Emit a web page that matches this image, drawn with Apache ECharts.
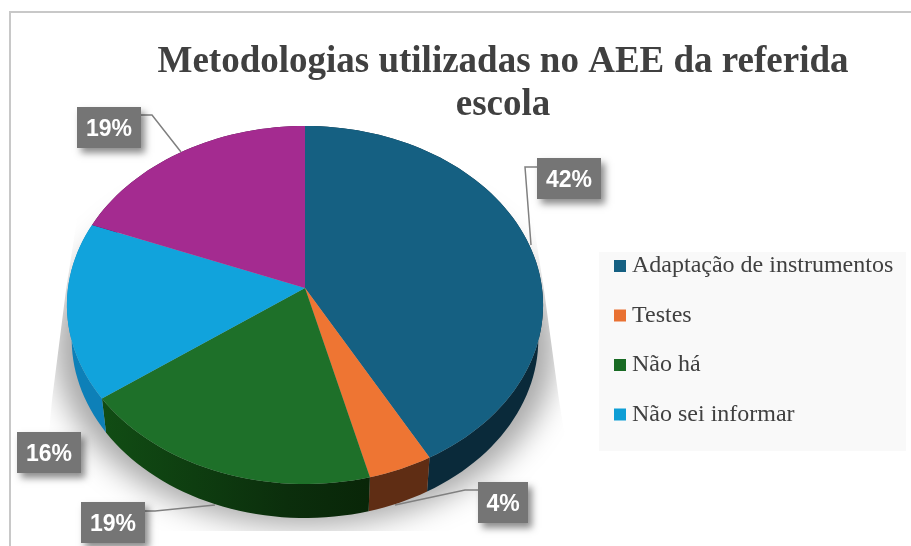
<!DOCTYPE html>
<html>
<head>
<meta charset="utf-8">
<style>
  html, body { margin: 0; padding: 0; background: #fff; }
  #chart { width: 911px; height: 546px; }
</style>
</head>
<body>
<div id="chart"></div>
<script src="https://cdn.jsdelivr.net/npm/echarts@6/dist/echarts.min.js"></script>
<script>
const sliceNames = ["Adaptação de instrumentos", "Testes", "Não há", "Não sei informar", "Outros"];
const sliceValues = [42, 4, 19, 16, 19];
const legendCount = 4;

const topColors = ["#156082", "#ee7533", "#1e7029", "#11a3dc", "#a42b90"];
const legendColors = ["#156082", "#e97132", "#196b24", "#0f9ed5"];
const sideColors = ["#0a2a3a", "#5f2d14", null, "#0d80b8", "#4a1443"];
const greenSide = {
  type: "linear", x: 100, y: 0, x2: 368, y2: 0, global: true,
  colorStops: [{ offset: 0, color: "#114d14" }, { offset: 0.7, color: "#0b2e0c" }, { offset: 1, color: "#092608" }],
};

// label boxes [x, y, w, h] and leader lines, in page pixels
const labelBoxes = [
  [537, 158, 64, 41],
  [478, 482, 50, 41],
  [81, 502, 64, 41],
  [17, 432, 64, 41],
  [77, 107, 64, 41],
];
const leaders = [
  [[537, 167], [525, 167], [531, 245]],
  [[478, 490], [465, 490], [395, 505]],
  [[145, 511], [155, 511], [215, 505]],
  null,
  [[141, 115], [152, 115], [181, 152]],
];

// perspective disc
const cx = 305, cy = 288, ax = 237, by = 177.4, k = 0.095, depth = 34, bottomScale = 0.98;
const total = sliceValues.reduce((a, b) => a + b, 0);

function discPoint(deg, scale, dy) {
  const t = (deg * Math.PI) / 180;
  const u = Math.sin(t), v = -Math.cos(t);
  const den = 1 - k * v;
  return [cx + (scale * ax * u) / den, cy + dy + (by * v) / den];
}

function arc(from, to, scale, dy) {
  const steps = Math.max(2, Math.ceil((to - from) / 2));
  const pts = [];
  for (let i = 0; i <= steps; i++) pts.push(discPoint(from + ((to - from) * i) / steps, scale, dy));
  return pts;
}

function renderSlice(params, api) {
  const i = params.seriesIndex - 1;
  const before = sliceValues.slice(0, i).reduce((a, b) => a + b, 0);
  const from = (before / total) * 360;
  const to = ((before + api.value(0)) / total) * 360;
  const rim = arc(from, to, 1, 0);
  const low = arc(from, to, bottomScale, depth).reverse();
  const children = [
    { type: "polygon", z2: 1, shape: { points: rim.concat(low) }, style: { fill: sideColors[i] || greenSide } },
    { type: "polygon", z2: 2, shape: { points: [[cx, cy]].concat(rim) }, style: { fill: topColors[i] } },
  ];
  const box = labelBoxes[i];
  if (leaders[i]) {
    children.push({ type: "polyline", z2: 3, shape: { points: leaders[i] }, style: { fill: null, stroke: "#808080", lineWidth: 1.5 } });
  }
  children.push({
    type: "rect", z2: 4,
    shape: { x: box[0], y: box[1], width: box[2], height: box[3] },
    style: { fill: "#757575", shadowBlur: 7, shadowOffsetX: 4, shadowOffsetY: 5, shadowColor: "rgba(0,0,0,0.45)" },
  });
  children.push({
    type: "text", z2: 5,
    style: {
      text: api.value(0) + "%", x: box[0] + box[2] / 2, y: box[1] + box[3] / 2 + 2,
      align: "center", verticalAlign: "middle", fill: "#fff",
      font: "bold 23px 'Liberation Sans'",
    },
  });
  return { type: "group", children };
}

// soft shadow under the disc, trimmed to a wedge and cut flat at the bottom.
// the outline sits off the page so only its blur is painted
function renderShadow() {
  const white = { fill: "#fff" };
  const away = 2000;
  return {
    type: "group",
    children: [
      {
        type: "polygon", z2: 1, shape: { points: arc(0, 360, 1.05, 42).map((p) => [p[0] - away, p[1]]) },
        style: { fill: "#a8a8a8", shadowBlur: 30, shadowOffsetX: away, shadowColor: "#a8a8a8" },
      },
      { type: "polygon", z2: 2, shape: { points: [[11, 200], [80, 200], [66, 290], [52, 400], [40, 531], [11, 531]] }, style: white },
      { type: "polygon", z2: 2, shape: { points: [[530, 200], [544, 290], [559, 400], [580, 531], [598, 531], [598, 200]] }, style: white },
      { type: "rect", z2: 2, shape: { x: 11, y: 531, width: 587, height: 15 }, style: white },
    ],
  };
}

const chart = echarts.init(document.getElementById("chart"), null, { renderer: "canvas" });
chart.setOption({
  animation: false,
  backgroundColor: "#fff",
  title: {
    text: "Metodologias utilizadas no AEE da referida\nescola",
    left: 503, top: 41, padding: 0, textAlign: "center",
    textStyle: { fontFamily: "Liberation Serif", fontWeight: "bold", fontSize: 37, lineHeight: 43, color: "#404040" },
  },
  legend: {
    orient: "vertical", left: 614, top: 254, padding: 0,
    itemWidth: 12, itemHeight: 12, itemGap: 25.5, icon: "rect",
    textStyle: { fontFamily: "Liberation Serif", fontSize: 24, color: "#404040", padding: [0, 0, 0, 1] },
    data: sliceNames.slice(0, legendCount).map((name, i) => ({ name, itemStyle: { color: legendColors[i] } })),
  },
  graphic: [
    { type: "rect", z: 0, shape: { x: 10, y: 12, width: 1000, height: 700 }, style: { fill: "#fff", stroke: "#c8c8c8", lineWidth: 2 } },
    { type: "rect", z: 1, shape: { x: 599, y: 252, width: 307, height: 199 }, style: { fill: "#f9f9f9" } },
  ],
  series: [
    { type: "custom", name: "sombra", coordinateSystem: "none", silent: true, z: 1, data: [[0]], renderItem: renderShadow },
  ].concat(sliceValues.map((value, i) => ({
    type: "custom",
    name: sliceNames[i],
    coordinateSystem: "none",
    z: 2,
    itemStyle: { color: topColors[i] },
    data: [[value]],
    renderItem: renderSlice,
  }))),
});
</script>
</body>
</html>
